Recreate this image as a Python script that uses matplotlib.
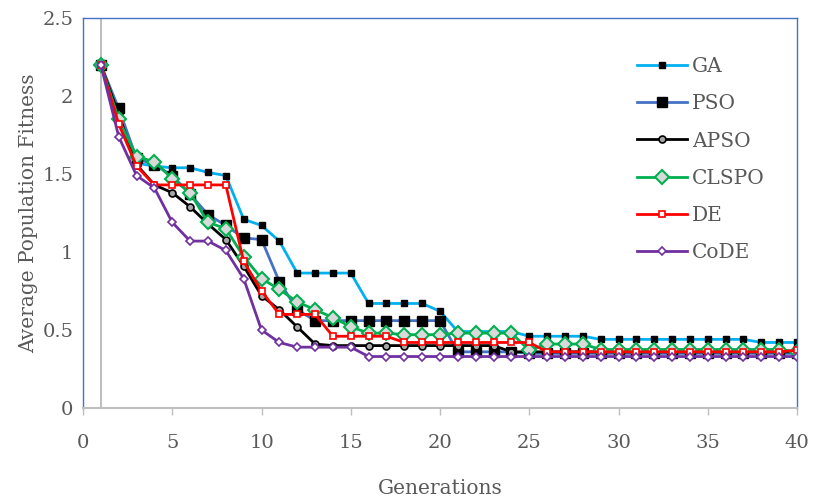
import matplotlib
matplotlib.use("Agg")
import matplotlib.pyplot as plt

generations = list(range(1, 41))

ga = [2.20, 1.90, 1.57, 1.55, 1.54, 1.54, 1.51, 1.49, 1.21, 1.17,
      1.07, 0.865, 0.865, 0.865, 0.865, 0.67, 0.67, 0.67, 0.67, 0.62,
      0.49, 0.49, 0.49, 0.49, 0.46, 0.46, 0.46, 0.46, 0.44, 0.44,
      0.44, 0.44, 0.44, 0.44, 0.44, 0.44, 0.44, 0.42, 0.42, 0.42]
pso = [2.20, 1.92, 1.60, 1.56, 1.49, 1.37, 1.24, 1.17, 1.09, 1.08,
       0.81, 0.63, 0.56, 0.56, 0.56, 0.56, 0.56, 0.56, 0.56, 0.56,
       0.36, 0.36, 0.36, 0.36, 0.35, 0.35, 0.35, 0.35, 0.35, 0.35,
       0.35, 0.35, 0.35, 0.35, 0.35, 0.35, 0.35, 0.35, 0.35, 0.35]
apso = [2.20, 1.88, 1.56, 1.43, 1.38, 1.29, 1.18, 1.08, 0.91, 0.72,
        0.63, 0.52, 0.41, 0.40, 0.40, 0.40, 0.40, 0.40, 0.40, 0.40,
        0.40, 0.40, 0.40, 0.36, 0.36, 0.36, 0.36, 0.36, 0.36, 0.36,
        0.36, 0.36, 0.36, 0.36, 0.36, 0.36, 0.36, 0.36, 0.36, 0.36]
clspo = [2.20, 1.85, 1.61, 1.58, 1.47, 1.38, 1.19, 1.15, 0.97, 0.83,
         0.76, 0.68, 0.63, 0.58, 0.52, 0.48, 0.48, 0.47, 0.47, 0.47,
         0.48, 0.48, 0.48, 0.48, 0.37, 0.41, 0.41, 0.41, 0.375, 0.375,
         0.375, 0.375, 0.375, 0.375, 0.375, 0.375, 0.375, 0.375, 0.375, 0.36]
de = [2.20, 1.82, 1.55, 1.43, 1.43, 1.43, 1.43, 1.43, 0.94, 0.75,
      0.60, 0.60, 0.60, 0.46, 0.46, 0.46, 0.46, 0.42, 0.42, 0.42,
      0.42, 0.42, 0.42, 0.42, 0.42, 0.36, 0.36, 0.36, 0.36, 0.36,
      0.36, 0.36, 0.36, 0.36, 0.36, 0.36, 0.36, 0.36, 0.36, 0.37]
code = [2.20, 1.74, 1.49, 1.41, 1.19, 1.07, 1.07, 1.01, 0.83, 0.50,
        0.42, 0.39, 0.39, 0.39, 0.39, 0.33, 0.33, 0.33, 0.33, 0.33,
        0.33, 0.33, 0.33, 0.33, 0.33, 0.33, 0.33, 0.33, 0.33, 0.33,
        0.33, 0.33, 0.33, 0.33, 0.33, 0.33, 0.33, 0.33, 0.33, 0.33]

series_names = ["GA", "PSO", "APSO", "CLSPO", "DE", "CoDE"]
x_ticks = [0, 5, 10, 15, 20, 25, 30, 35, 40]
y_ticks = [0, 0.5, 1, 1.5, 2, 2.5]
y_tick_labels = ["0", "0.5", "1", "1.5", "2", "2.5"]

plt.rcParams['font.family'] = ['DejaVu Serif', 'Liberation Serif']
text_col = "#595959"

fig = plt.figure(figsize=(8.13, 5.01), dpi=100)
ax = fig.add_axes([83/813, 1 - 408/501, (797-83)/813, (408-18)/501])

styles = [
    dict(color="#00B0F0", marker="s", ms=4, mfc="black", mec="black"),
    dict(color="#4472C4", marker="s", ms=6.5, mfc="black", mec="black"),
    dict(color="black", marker="o", ms=5, mfc="#A6A6A6", mec="black", mew=1.2),
    dict(color="#00B050", marker="D", ms=7, mfc="#D9D9D9", mec="#00B050", mew=1.5),
    dict(color="#FF0000", marker="s", ms=4, mfc="white", mec="#FF0000", mew=1.2),
    dict(color="#7030A0", marker="D", ms=4, mfc="white", mec="#7030A0", mew=1.2),
]
all_series = [ga, pso, apso, clspo, de, code]
for name, vals, st in zip(series_names, all_series, styles):
    ax.plot(generations, vals, label=name, lw=2.0, **st)

ax.set_xlim(0, 40)
ax.set_ylim(0, 2.5)
ax.set_xticks(x_ticks)
ax.set_yticks(y_ticks)
ax.set_yticklabels(y_tick_labels)
ax.tick_params(axis='y', length=0, labelsize=14, colors=text_col, pad=7)
ax.tick_params(axis='x', length=5, width=1, color="#BFBFBF", labelsize=14,
               pad=14)
for lbl in ax.get_xticklabels():
    lbl.set_color(text_col)

ax.axvline(1, color="#BFBFBF", lw=1.5, zorder=0)
for s in ["left", "top", "right"]:
    ax.spines[s].set_color("#4472C4")
    ax.spines[s].set_linewidth(1.0)
ax.spines["bottom"].set_color("#BFBFBF")
ax.spines["bottom"].set_linewidth(1.5)

ax.set_xlabel("Generations", fontsize=14.5, color=text_col, labelpad=19)
ax.set_ylabel("Average Population Fitness", fontsize=14.5, color=text_col, labelpad=3)

leg = ax.legend(loc="upper left", bbox_to_anchor=(0.765, 0.92), frameon=False,
                fontsize=14.5, labelspacing=0.9, handlelength=2.45,
                handletextpad=0.25, borderaxespad=0)
for t in leg.get_texts():
    t.set_color(text_col)

fig.savefig("out.png", dpi=100)
